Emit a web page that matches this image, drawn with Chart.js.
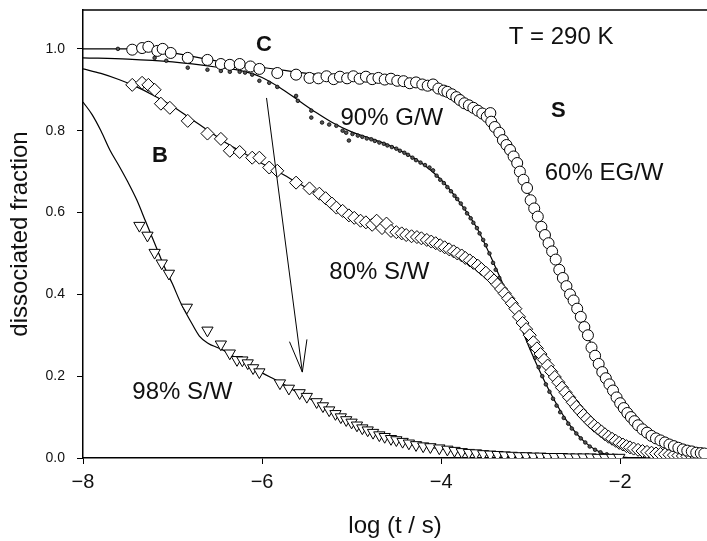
<!DOCTYPE html>
<html>
<head>
<meta charset="utf-8">
<script src="https://cdn.jsdelivr.net/npm/chart.js@4.4.1/dist/chart.umd.min.js"></script>
<style>
  html, body { margin: 0; padding: 0; background: #fff; }
  #wrap { width: 707px; height: 541px; }
</style>
</head>
<body>
<div id="wrap"><canvas id="dissChart" width="707" height="541"></canvas></div>
<script>
// ── data (x = log(t/s), y = dissociated fraction) ──
const xTicks = [-8, -6, -4, -2];
const xTickLabels = ["\u22128", "\u22126", "\u22124", "\u22122"];
const yTicks = [0, 0.2, 0.4, 0.6, 0.8, 1.0];
const yTickLabels = ["0.0", "0.2", "0.4", "0.6", "0.8", "1.0"];

// 60% EG/W (open circles)
const egX = [-7.45, -7.34, -7.27, -7.17, -7.11, -7.02, -6.83, -6.61, -6.46, -6.36, -6.25, -6.13, -6.03, -5.83, -5.62, -5.47, -5.37, -5.28, -5.20, -5.13,
  -5.05, -4.98, -4.91, -4.84, -4.77, -4.70, -4.63, -4.56, -4.49, -4.42, -4.35, -4.28, -4.21, -4.15, -4.09, -4.03, -3.97, -3.93, -3.88, -3.83,
  -3.79, -3.74, -3.69, -3.64, -3.59, -3.54, -3.49, -3.45, -3.44, -3.40, -3.35, -3.31, -3.27, -3.23, -3.19, -3.15, -3.12, -3.08, -3.04, -3.00,
  -2.96, -2.92, -2.88, -2.84, -2.80, -2.76, -2.72, -2.68, -2.64, -2.60, -2.56, -2.52, -2.48, -2.44, -2.40, -2.36, -2.32, -2.28, -2.24, -2.20,
  -2.16, -2.12, -2.08, -2.04, -2.00, -1.96, -1.92, -1.88, -1.84, -1.80, -1.75, -1.70, -1.65, -1.60, -1.55, -1.50, -1.45, -1.40, -1.35, -1.30,
  -1.25, -1.20, -1.15, -1.10, -1.06];
const egY = [0.998, 1.002, 1.005, 0.995, 1.0, 0.99, 0.978, 0.973, 0.963, 0.961, 0.963, 0.957, 0.951, 0.941, 0.937, 0.929, 0.928, 0.933, 0.926, 0.932,
  0.928, 0.933, 0.927, 0.932, 0.926, 0.929, 0.925, 0.927, 0.922, 0.921, 0.916, 0.918, 0.913, 0.91, 0.913, 0.903, 0.898, 0.895, 0.889, 0.882,
  0.875, 0.867, 0.862, 0.856, 0.849, 0.842, 0.834, 0.843, 0.822, 0.809, 0.795, 0.777, 0.765, 0.753, 0.737, 0.721, 0.70, 0.68, 0.66, 0.63,
  0.61, 0.59, 0.565, 0.545, 0.525, 0.505, 0.485, 0.46, 0.44, 0.42, 0.40, 0.385, 0.365, 0.345, 0.32, 0.30, 0.27, 0.25, 0.23, 0.21,
  0.195, 0.18, 0.165, 0.148, 0.134, 0.122, 0.11, 0.10, 0.09, 0.08, 0.07, 0.062, 0.054, 0.048, 0.043, 0.038, 0.033, 0.029, 0.025, 0.021,
  0.018, 0.016, 0.013, 0.012, 0.011];
const egFitX = [-8, -7.5, -7, -6.5, -6, -5.5, -5, -4.5, -4.2, -4, -3.8, -3.6, -3.4, -3.2, -3.0, -2.8, -2.6, -2.4, -2.2, -2.0, -1.8, -1.6, -1.4, -1.2, -1.03];
const egFitY = [1.0, 1.0, 0.99, 0.97, 0.955, 0.94, 0.932, 0.924, 0.914, 0.9, 0.877, 0.85, 0.81, 0.745, 0.635, 0.525, 0.42, 0.32, 0.21, 0.134, 0.08, 0.048, 0.029, 0.016, 0.01];

// 90% G/W (small dots)
const gwX = [-7.61, -7.45, -7.34, -7.27, -7.20, -7.14, -7.07, -7.02, -6.83, -6.61, -6.46, -6.36, -6.25, -6.19, -6.11, -6.03, -5.92, -5.83, -5.62, -5.60,
  -5.45, -5.45, -5.33, -5.25, -5.17, -5.10, -5.06, -5.03, -4.99, -4.93, -4.88, -4.83, -4.78, -4.74, -4.69, -4.64, -4.60, -4.55, -4.50, -4.46,
  -4.41, -4.37, -4.32, -4.28, -4.23, -4.18, -4.13, -4.09, -4.05, -4.01, -3.97, -3.93, -3.89, -3.85, -3.82, -3.78, -3.74, -3.71, -3.67, -3.64,
  -3.60, -3.57, -3.53, -3.50, -3.46, -3.42, -3.39, -3.35, -3.31, -3.27, -3.23, -3.19, -3.15, -3.11, -3.07, -3.03, -2.99, -2.95, -2.91, -2.87,
  -2.83, -2.79, -2.75, -2.71, -2.67, -2.63, -2.58, -2.54, -2.49, -2.44, -2.39, -2.34, -2.28, -2.22, -2.15, -2.08, -2.00];
const gwY = [1.0, 1.0, 1.002, 1.01, 0.978, 0.99, 0.971, 0.988, 0.954, 0.949, 0.946, 0.944, 0.944, 0.942, 0.937, 0.922, 0.917, 0.907, 0.885, 0.873,
  0.849, 0.832, 0.82, 0.815, 0.812, 0.80, 0.795, 0.776, 0.792, 0.788, 0.785, 0.781, 0.779, 0.775, 0.771, 0.768, 0.764, 0.76, 0.756, 0.751,
  0.746, 0.741, 0.734, 0.728, 0.722, 0.716, 0.71, 0.703, 0.69, 0.68, 0.672, 0.662, 0.652, 0.641, 0.633, 0.622, 0.61, 0.598, 0.586, 0.575,
  0.562, 0.549, 0.533, 0.52, 0.50, 0.477, 0.46, 0.44, 0.418, 0.398, 0.38, 0.365, 0.35, 0.335, 0.315, 0.292, 0.268, 0.245, 0.222, 0.20,
  0.18, 0.162, 0.145, 0.128, 0.112, 0.098, 0.084, 0.072, 0.06, 0.048, 0.038, 0.028, 0.02, 0.014, 0.009, 0.006, 0.004];
const gwFitX = [-8, -7.5, -7, -6.5, -6.2, -6, -5.8, -5.6, -5.4, -5.2, -5, -4.8, -4.6, -4.4, -4.2, -4.0, -3.8, -3.6, -3.4, -3.2, -3.0, -2.8, -2.6, -2.4, -2.2, -2.0, -1.8];
const gwFitY = [0.978, 0.975, 0.968, 0.955, 0.945, 0.93, 0.905, 0.875, 0.845, 0.818, 0.797, 0.782, 0.766, 0.745, 0.718, 0.68, 0.627, 0.562, 0.47, 0.37, 0.262, 0.168, 0.092, 0.04, 0.012, 0.003, 0.0];

// 80% S/W (open diamonds)
const swX = [-7.45, -7.34, -7.27, -7.20, -7.13, -7.03, -6.83, -6.61, -6.46, -6.36, -6.25, -6.11, -6.03, -5.92, -5.83, -5.62, -5.47, -5.36, -5.29, -5.22,
  -5.17, -5.10, -5.03, -4.97, -4.90, -4.84, -4.77, -4.72, -4.66, -4.61, -4.56, -4.50, -4.44, -4.39, -4.33, -4.27, -4.22, -4.16, -4.11, -4.06,
  -4.01, -3.96, -3.91, -3.86, -3.82, -3.77, -3.73, -3.68, -3.64, -3.59, -3.55, -3.50, -3.45, -3.41, -3.37, -3.33, -3.29, -3.25, -3.21, -3.17,
  -3.13, -3.09, -3.05, -3.01, -2.97, -2.93, -2.89, -2.85, -2.81, -2.77, -2.73, -2.69, -2.65, -2.61, -2.57, -2.53, -2.49, -2.45, -2.41, -2.37,
  -2.33, -2.29, -2.25, -2.21, -2.17, -2.13, -2.09, -2.05, -2.01, -1.97, -1.93, -1.89, -1.85, -1.80, -1.75, -1.70, -1.65, -1.60, -1.55, -1.50,
  -1.45, -1.40, -1.35, -1.30, -1.25, -1.20, -1.15, -1.10, -1.06];
const swY = [0.912, 0.917, 0.912, 0.90, 0.866, 0.856, 0.824, 0.793, 0.78, 0.751, 0.748, 0.734, 0.734, 0.71, 0.702, 0.673, 0.659, 0.646, 0.635, 0.622,
  0.612, 0.604, 0.593, 0.587, 0.58, 0.576, 0.57, 0.58, 0.562, 0.573, 0.555, 0.552, 0.549, 0.545, 0.542, 0.54, 0.537, 0.533, 0.529, 0.525,
  0.52, 0.515, 0.51, 0.505, 0.50, 0.495, 0.489, 0.483, 0.477, 0.47, 0.462, 0.453, 0.443, 0.434, 0.424, 0.413, 0.402, 0.39, 0.378, 0.365,
  0.345, 0.33, 0.315, 0.30, 0.283, 0.268, 0.254, 0.24, 0.226, 0.211, 0.198, 0.185, 0.172, 0.16, 0.148, 0.136, 0.125, 0.115, 0.105, 0.096,
  0.087, 0.079, 0.072, 0.065, 0.058, 0.052, 0.047, 0.042, 0.037, 0.033, 0.029, 0.026, 0.023, 0.02, 0.017, 0.015, 0.013, 0.011, 0.01, 0.009,
  0.008, 0.007, 0.006, 0.005, 0.004, 0.004, 0.003, 0.003, 0.003];
const swFitX = [-8, -7.8, -7.6, -7.4, -7.2, -7.0, -6.8, -6.6, -6.4, -6.2, -6.0, -5.8, -5.6, -5.4, -5.2, -5.0, -4.8, -4.6, -4.4, -4.2, -4.0, -3.8, -3.6, -3.4, -3.2, -3.0, -2.8, -2.6, -2.4, -2.2, -2.0, -1.8, -1.6, -1.4, -1.2, -1.03];
const swFitY = [0.951, 0.94, 0.925, 0.907, 0.885, 0.86, 0.83, 0.80, 0.77, 0.745, 0.72, 0.697, 0.672, 0.648, 0.622, 0.597, 0.577, 0.56, 0.547, 0.536, 0.521, 0.50, 0.473, 0.432, 0.372, 0.30, 0.226, 0.16, 0.105, 0.067, 0.038, 0.021, 0.012, 0.007, 0.004, 0.003];

// 98% S/W (open down triangles)
const s98X = [-7.37, -7.28, -7.20, -7.12, -7.04, -6.84, -6.61, -6.46, -6.36, -6.28, -6.22, -6.16, -6.10, -6.03, -5.80, -5.70, -5.58, -5.50, -5.39, -5.32,
  -5.25, -5.18, -5.12, -5.06, -5.00, -4.94, -4.88, -4.82, -4.76, -4.69, -4.63, -4.56, -4.50, -4.43, -4.36, -4.28, -4.20, -4.12, -4.02, -3.93,
  -3.85, -3.77, -3.69, -3.61, -3.53, -3.45, -3.37, -3.29, -3.21, -3.13, -3.05, -2.97, -2.89, -2.81, -2.73, -2.65, -2.57, -2.49, -2.41, -2.33,
  -2.25, -2.17, -2.09, -2.01];
const s98Y = [0.568, 0.544, 0.502, 0.476, 0.451, 0.368, 0.312, 0.278, 0.256, 0.24, 0.239, 0.232, 0.22, 0.21, 0.183, 0.17, 0.159, 0.15, 0.137, 0.127,
  0.117, 0.108, 0.10, 0.093, 0.087, 0.08, 0.073, 0.068, 0.062, 0.056, 0.052, 0.047, 0.044, 0.04, 0.036, 0.032, 0.029, 0.027, 0.024, 0.021,
  0.018, 0.015, 0.013, 0.012, 0.01, 0.009, 0.008, 0.007, 0.006, 0.005, 0.005, 0.004, 0.004, 0.003, 0.003, 0.003, 0.002, 0.002, 0.002, 0.002,
  0.001, 0.001, 0.001, 0.001];
const s98FitX = [-8, -7.9, -7.8, -7.7, -7.6, -7.5, -7.4, -7.3, -7.2, -7.1, -7.0, -6.9, -6.8, -6.7, -6.6, -6.5, -6.4, -6.3, -6.2, -6.0, -5.8, -5.6, -5.4, -5.2, -5.0, -4.8, -4.6, -4.4, -4.2, -4.0, -3.6, -3.2, -2.8, -2.4, -2.0];
const s98FitY = [0.87, 0.84, 0.80, 0.753, 0.715, 0.675, 0.631, 0.578, 0.525, 0.472, 0.425, 0.375, 0.335, 0.298, 0.28, 0.27, 0.26, 0.246, 0.232, 0.208, 0.185, 0.16, 0.137, 0.113, 0.09, 0.07, 0.053, 0.04, 0.03, 0.022, 0.012, 0.006, 0.003, 0.001, 0.0];

// ── annotation layout (data coordinates) ──
const FONT = "'Liberation Sans', Arial, sans-serif";
const notes = [
  { text: "T = 290 K", x: -2.66, y: 1.027, bold: false },
  { text: "C", x: -5.98, y: 1.01, bold: true },
  { text: "B", x: -7.14, y: 0.739, bold: true },
  { text: "S", x: -2.69, y: 0.849, bold: true },
  { text: "90% G/W", x: -4.55, y: 0.829, bold: false },
  { text: "60% EG/W", x: -2.18, y: 0.695, bold: false },
  { text: "80% S/W", x: -4.69, y: 0.454, bold: false },
  { text: "98% S/W", x: -6.89, y: 0.161, bold: false }
];
const arrow = { x1: -5.95, y1: 0.88, x2: -5.55, y2: 0.21 };

const pts = (xs, ys) => xs.map((x, i) => ({ x, y: ys[i] }));

// draws the top frame line, the arrow and the text labels
const extrasPlugin = {
  id: "extras",
  afterDatasetsDraw(chart) {
    const { ctx, chartArea: a, scales: { x, y } } = chart;
    ctx.save();
    ctx.strokeStyle = "#000";
    ctx.lineWidth = 1.5;
    ctx.beginPath();
    ctx.moveTo(a.left, a.top);
    ctx.lineTo(a.right, a.top);
    ctx.stroke();

    // arrow with open head
    const x1 = x.getPixelForValue(arrow.x1), y1 = y.getPixelForValue(arrow.y1);
    const x2 = x.getPixelForValue(arrow.x2), y2 = y.getPixelForValue(arrow.y2);
    const ang = Math.atan2(y2 - y1, x2 - x1);
    const len = 33, spread = 0.27;
    ctx.lineWidth = 1;
    ctx.beginPath();
    ctx.moveTo(x1, y1);
    ctx.lineTo(x2, y2);
    ctx.moveTo(x2 - len * Math.cos(ang - spread), y2 - len * Math.sin(ang - spread));
    ctx.lineTo(x2, y2);
    ctx.lineTo(x2 - len * Math.cos(ang + spread), y2 - len * Math.sin(ang + spread));
    ctx.stroke();

    ctx.fillStyle = "#111";
    ctx.textAlign = "center";
    ctx.textBaseline = "middle";
    notes.forEach(n => {
      ctx.font = (n.bold ? "bold 22px " : "24px ") + FONT;
      ctx.fillText(n.text, x.getPixelForValue(n.x), y.getPixelForValue(n.y));
    });
    ctx.restore();
  }
};

const lineSet = (xs, ys) => ({
  data: pts(xs, ys),
  showLine: true,
  borderColor: "#000",
  borderWidth: 1.2,
  pointRadius: 0,
  cubicInterpolationMode: "monotone",
  order: 1
});

const markerSet = (xs, ys, style, radius, extra) => Object.assign({
  data: pts(xs, ys),
  showLine: false,
  pointStyle: style,
  pointRadius: radius,
  pointBackgroundColor: "#fff",
  pointBorderColor: "#000",
  pointBorderWidth: 1,
  order: 0
}, extra || {});

new Chart(document.getElementById("dissChart"), {
  type: "scatter",
  data: {
    datasets: [
      markerSet(egX, egY, "circle", 5.5),
      markerSet(swX, swY, "rectRot", 6.5),
      markerSet(s98X, s98Y, "triangle", 6.5, { pointRotation: 180 }),
      markerSet(gwX, gwY, "circle", 1.8, { pointBackgroundColor: "#555", pointBorderWidth: 0.8 }),
      lineSet(egFitX, egFitY),
      lineSet(gwFitX, gwFitY),
      lineSet(swFitX, swFitY),
      lineSet(s98FitX, s98FitY)
    ]
  },
  options: {
    responsive: false,
    animation: false,
    layout: { autoPadding: false, padding: { left: 0, right: 0, top: 10, bottom: 0 } },
    plugins: { legend: { display: false }, tooltip: { enabled: false } },
    scales: {
      x: {
        type: "linear",
        min: -8,
        max: -1.03,
        afterBuildTicks: s => { s.ticks = xTicks.map(v => ({ value: v })); },
        afterFit: s => { s.height = 83; s.paddingLeft = 0; s.paddingRight = 0; },
        ticks: {
          callback: v => xTickLabels[xTicks.indexOf(v)],
          font: { family: FONT, size: 20 },
          color: "#111",
          padding: 6,
          maxRotation: 0
        },
        grid: { drawOnChartArea: false, tickLength: 6, tickColor: "#000", lineWidth: 1 },
        border: { color: "#000", width: 1.5 },
        title: {
          display: true,
          text: "log (t / s)",
          font: { family: FONT, size: 24 },
          color: "#111",
          padding: { top: 0, bottom: 0 }
        }
      },
      y: {
        type: "linear",
        min: 0,
        max: 1.095,
        afterBuildTicks: s => { s.ticks = yTicks.map(v => ({ value: v })); },
        afterFit: s => { s.width = 83; s.paddingTop = 0; s.paddingBottom = 0; },
        ticks: {
          callback: v => yTickLabels[yTicks.indexOf(v)],
          font: { family: FONT, size: 14 },
          color: "#111",
          padding: 12
        },
        grid: { drawOnChartArea: false, tickLength: 6, tickColor: "#000", lineWidth: 1 },
        border: { color: "#000", width: 1.5 },
        title: {
          display: true,
          text: "dissociated fraction",
          font: { family: FONT, size: 24 },
          color: "#111",
          padding: { top: 6, bottom: 0 }
        }
      }
    }
  },
  plugins: [extrasPlugin]
});
</script>
</body>
</html>
